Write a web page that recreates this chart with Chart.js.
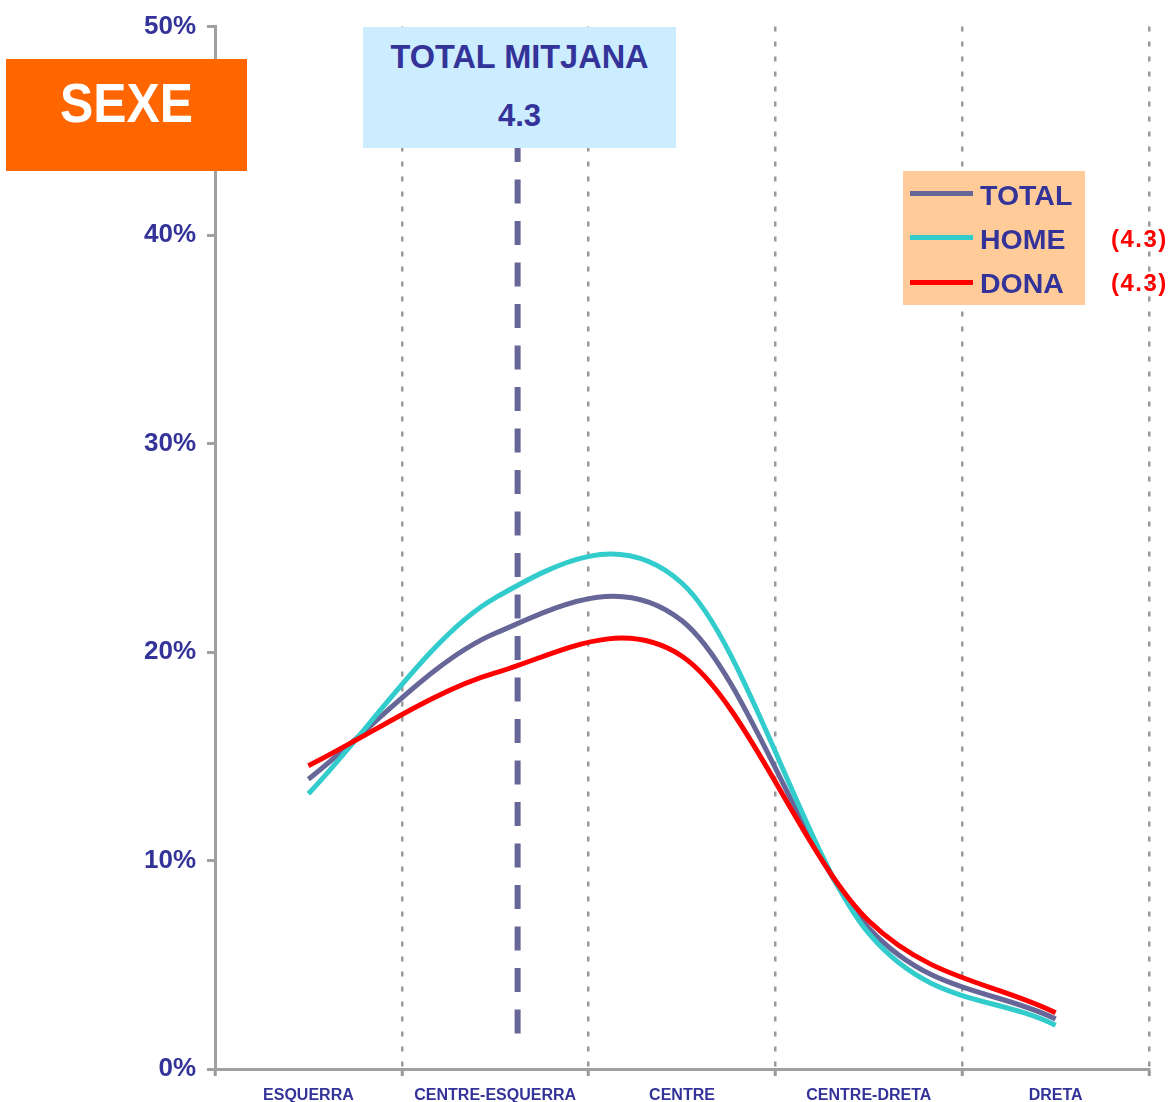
<!DOCTYPE html>
<html lang="ca">
<head>
<meta charset="utf-8">
<title>Sexe - autoubicació ideològica</title>
<script src="https://cdn.jsdelivr.net/npm/chart.js@4/dist/chart.umd.min.js"></script>
<style>
  body { margin: 0; background: #ffffff; font-family: "Liberation Sans", Arial, sans-serif; }
  #contenidor { position: relative; width: 1176px; height: 1102px; overflow: hidden; }
  #grafic { position: absolute; left: 0; top: 0; }
  .caixa { position: absolute; }
  .text { position: absolute; font-weight: bold; white-space: nowrap; }
  #sexe { left: 6px; top: 59px; width: 241px; height: 112px; background: #ff6600; }
  #sexe .text { left: 0; width: 100%; top: 16px; font-size: 56px; line-height: 56px; text-align: center; color: #ffffff; transform: scaleX(0.89); }
  #mitjana { left: 363px; top: 27px; width: 313px; height: 121px; background: #ccecff; }
  #mitjana .text { left: 0; width: 100%; text-align: center; color: #333399; }
  #llegenda { left: 903px; top: 171px; width: 182px; height: 134px; background: #ffcc99; }
  .linia-llegenda { position: absolute; left: 7px; width: 63px; height: 5px; }
  .nom-llegenda { left: 77px; font-size: 28.5px; line-height: 28px; color: #333399; }
  .mitjana-serie { left: 1111px; font-size: 24px; line-height: 24px; letter-spacing: 1.5px; color: #ff0000; }
</style>
</head>
<body>
<div id="contenidor">
  <canvas id="grafic" width="1176" height="1102"></canvas>
  <div class="caixa" id="sexe"><div class="text">SEXE</div></div>
  <div class="caixa" id="mitjana">
    <div class="text" id="titol-mitjana" style="top: 14px; font-size: 32.5px; line-height: 32px;">TOTAL MITJANA</div>
    <div class="text" id="valor-mitjana" style="top: 73px; font-size: 31px; line-height: 31px;"></div>
  </div>
  <div class="caixa" id="llegenda"></div>
</div>

<script>
// Dades del gràfic (percentatges llegits del gràfic original)
const categories = ['ESQUERRA', 'CENTRE-ESQUERRA', 'CENTRE', 'CENTRE-DRETA', 'DRETA'];
const valorsTotal = [13.9, 20.9, 21.5, 6.75, 2.4];
const valorsHome = [13.2, 22.6, 23.3, 6.5, 2.1];
const valorsDona = [14.55, 19.0, 19.8, 7.1, 2.7];
const marquesY = [0, 10, 20, 30, 40, 50];

const nomsSeries = ['TOTAL', 'HOME', 'DONA'];
const colorsSeries = ['#666699', '#33cccc', '#ff0000'];
const mitjanesSeries = [null, '4.3', '4.3'];

const mitjanaTotal = '4.3';
const posicioMitjana = 1.12;   // posició de la mitjana sobre l'eix de categories
const baseLiniaMitjana = 1;    // la línia discontínua acaba a l'1%

// Suavitzat tipus Excel (Catmull-Rom) sobre els punts calculats per Chart.js
const suavitzat = {
  id: 'suavitzat',
  beforeDatasetsDraw(chart) {
    chart.data.datasets.forEach((ds, i) => {
      const meta = chart.getDatasetMeta(i);
      const pts = meta.data;
      meta.dataset.updateControlPoints(chart.chartArea);
      for (let k = 0; k < pts.length; k++) {
        const p = pts[k];
        const seg = pts[k + 1] || { x: 2 * p.x - pts[k - 1].x, y: 2 * p.y - pts[k - 1].y };
        const ant = pts[k - 1] || { x: 2 * p.x - seg.x, y: 2 * p.y - seg.y };
        const dx = (seg.x - ant.x) / 6;
        const dy = (seg.y - ant.y) / 6;
        p.cp1x = p.x - dx; p.cp1y = p.y - dy;
        p.cp2x = p.x + dx; p.cp2y = p.y + dy;
      }
    });
  }
};

// Línia discontínua de la mitjana total (la part de dalt queda sota la caixa)
const liniaMitjana = {
  id: 'liniaMitjana',
  afterDatasetsDraw(chart) {
    const { ctx, chartArea, scales } = chart;
    const x = scales.x.getPixelForValue(posicioMitjana);
    const yFinal = scales.y.getPixelForValue(baseLiniaMitjana);
    ctx.save();
    ctx.strokeStyle = '#666699';
    ctx.lineWidth = 6;
    ctx.setLineDash([24, 17.5]);
    ctx.lineDashOffset = 18;
    ctx.beginPath();
    ctx.moveTo(x, chartArea.top + 5);
    ctx.lineTo(x, yFinal);
    ctx.stroke();
    ctx.restore();
  }
};

const series = [valorsTotal, valorsHome, valorsDona];

const ctx = document.getElementById('grafic').getContext('2d');
new Chart(ctx, {
  type: 'line',
  data: {
    labels: categories,
    datasets: series.map((valors, i) => ({
      label: nomsSeries[i],
      data: valors,
      borderColor: colorsSeries[i],
      borderWidth: 5,
      pointRadius: 0,
      pointHoverRadius: 0,
      tension: 0.3,
      fill: false,
      order: 3 - i
    }))
  },
  options: {
    responsive: false,
    animation: false,
    events: [],
    layout: {
      padding: { left: 0, right: 27, top: 25, bottom: 0 }
    },
    plugins: {
      legend: { display: false },
      tooltip: { enabled: false }
    },
    scales: {
      x: {
        offset: true,
        afterFit: (scale) => { scale.height = 33; },
        grid: {
          offset: true,
          color: '#999999',
          lineWidth: 2.5,
          drawTicks: true,
          tickLength: 7,
          tickWidth: 3,
          tickColor: '#999999'
        },
        border: { display: true, color: '#a0a0a0', width: 3, dash: [5, 10] },
        ticks: {
          color: '#333399',
          padding: 10,
          maxRotation: 0,
          autoSkip: false,
          font: { family: 'Liberation Sans', size: 16, weight: 'bold' }
        }
      },
      y: {
        min: 0,
        max: 50,
        afterFit: (scale) => { scale.width = 215; },
        afterBuildTicks: (scale) => { scale.ticks = marquesY.map(v => ({ value: v })); },
        grid: {
          drawOnChartArea: false,
          drawTicks: true,
          tickLength: 8,
          tickWidth: 3,
          tickColor: '#a0a0a0',
          color: '#a0a0a0'
        },
        border: { display: true, color: '#a0a0a0', width: 3 },
        ticks: {
          color: '#333399',
          padding: 11,
          callback: (v) => v + '%',
          font: { family: 'Liberation Sans', size: 26, weight: 'bold' }
        }
      }
    }
  },
  plugins: [suavitzat, liniaMitjana]
});

// Textos de les caixes
document.getElementById('valor-mitjana').textContent = mitjanaTotal;

const llegenda = document.getElementById('llegenda');
const contenidor = document.getElementById('contenidor');
nomsSeries.forEach((nom, i) => {
  const linia = document.createElement('div');
  linia.className = 'linia-llegenda';
  linia.style.top = (19.5 + i * 44.5) + 'px';
  linia.style.background = colorsSeries[i];
  llegenda.appendChild(linia);

  const text = document.createElement('div');
  text.className = 'text nom-llegenda';
  text.style.top = (9.5 + i * 44.3) + 'px';
  text.textContent = nom;
  llegenda.appendChild(text);

  if (mitjanesSeries[i]) {
    const m = document.createElement('div');
    m.className = 'text mitjana-serie';
    m.style.top = (182 + i * 44.5) + 'px';
    m.textContent = '(' + mitjanesSeries[i] + ')';
    contenidor.appendChild(m);
  }
});
</script>
</body>
</html>
